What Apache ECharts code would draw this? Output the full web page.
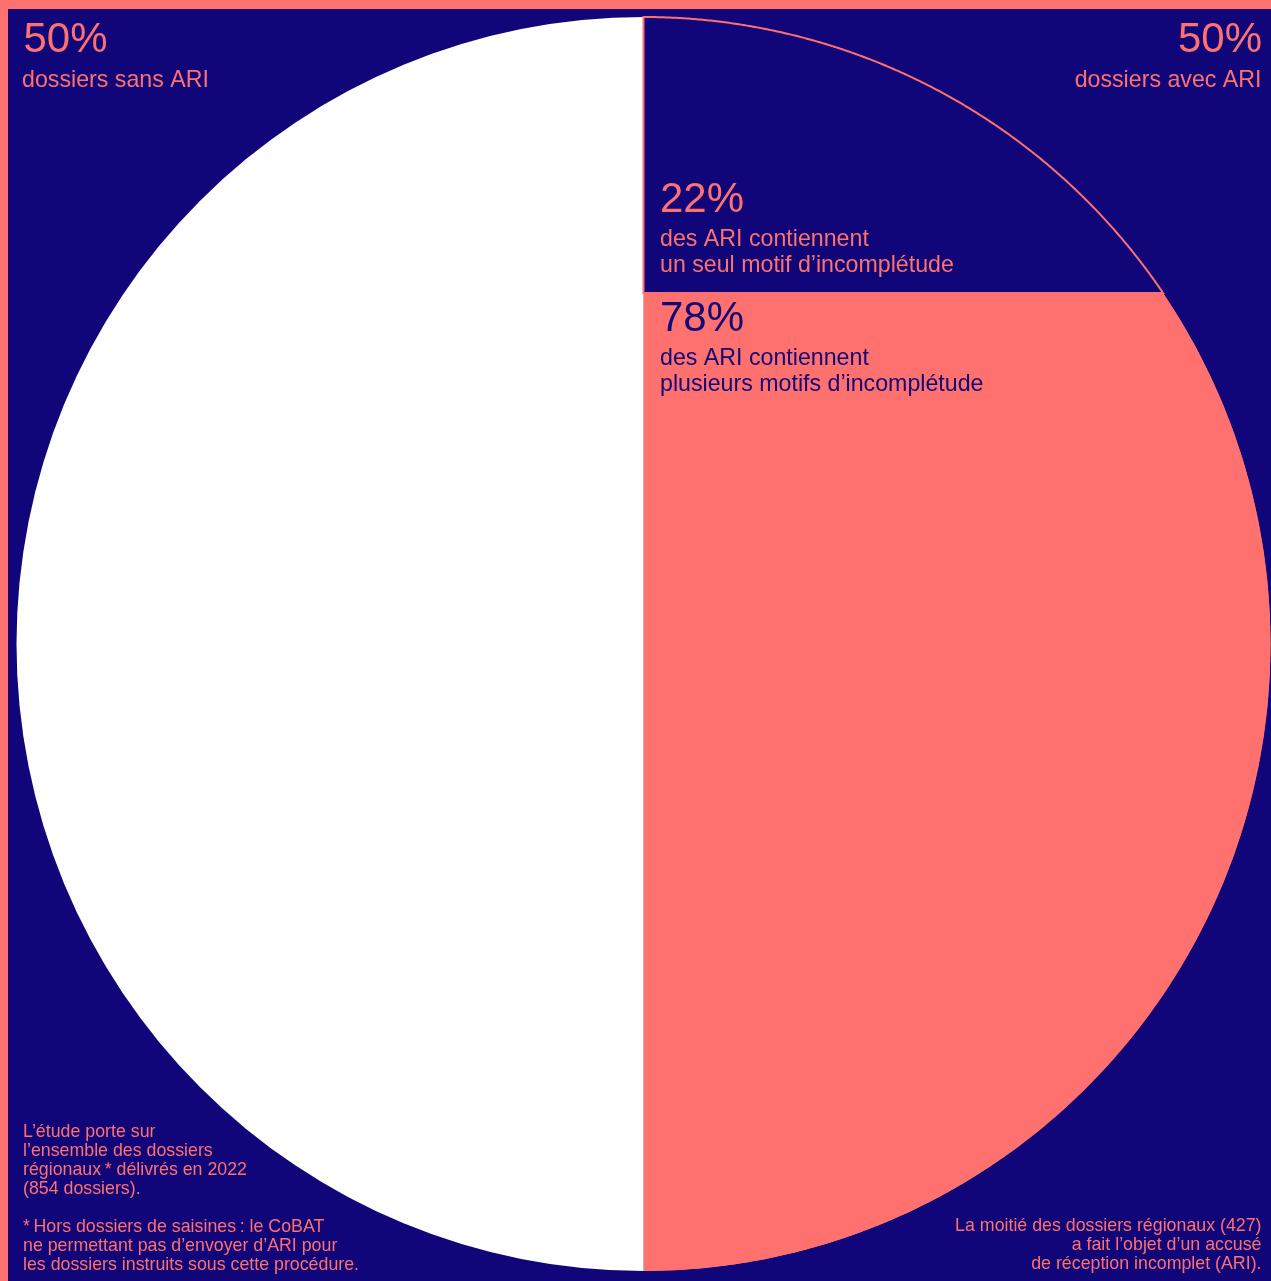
<!DOCTYPE html>
<html>
<head>
<meta charset="utf-8">
<script src="https://cdn.jsdelivr.net/npm/echarts@6/dist/echarts.min.js"></script>
<style>
  html, body { margin: 0; padding: 0; background: #100679; }
  #chart { width: 1271px; height: 1281px; }
</style>
</head>
<body>
<div id="chart"></div>
<script>
// Regional files with / without an incomplete acknowledgement of receipt (ARI)
const ariCategories = ['dossiers avec ARI', 'dossiers sans ARI'];
const ariShares = [50, 50];

// Among the files with an ARI: a single reason vs several reasons
const motifCategories = ['un seul motif d’incomplétude', 'plusieurs motifs d’incomplétude'];
const motifShares = [22, 78];

const NAVY = '#100679';
const CORAL = '#FF716F';
const WHITE = '#FFFFFF';
const FONT = '"Liberation Sans", Arial, sans-serif';

// circle geometry (pixels)
const CX = 643.5, CY = 644, R = 627;

// stacked bands of the right half, as percentages of the diameter from the top
const motifTotal = motifShares.reduce((a, b) => a + b, 0);
let acc = 0;
const motifBands = motifShares.map((v, i) => {
  const start = acc;
  acc += v / motifTotal * 100;
  return { name: motifCategories[i], value: [start, acc] };
});

function renderBand(params, api) {
  const y0 = api.value(0), y1 = api.value(1);
  const c = api.coord([0, 50]);
  const r = api.coord([1, 50])[0] - c[0];
  const p0 = api.coord([0, y0])[1];
  const p1 = api.coord([0, y1])[1];
  const clamp = v => Math.max(-1, Math.min(1, v));
  const t0 = Math.acos(clamp((c[1] - p0) / r));
  const t1 = Math.acos(clamp((c[1] - p1) / r));
  const pts = [];
  const n = 300;
  for (let i = 0; i <= n; i++) {
    const t = t0 + (t1 - t0) * i / n;
    pts.push([c[0] + r * Math.sin(t), c[1] - r * Math.cos(t)]);
  }
  pts.push([c[0], p1]);
  pts.push([c[0], p0]);
  const first = params.dataIndex === 0;
  return {
    type: 'polygon',
    z2: first ? 2 : 1,
    shape: { points: pts },
    style: first
      ? { fill: NAVY, stroke: CORAL, lineWidth: 2 }
      : { fill: CORAL, stroke: null, lineWidth: 0 }
  };
}

function label(x, y, text, size, color, align, vAlign, lineHeight) {
  return {
    type: 'text',
    x: x, y: y,
    z: 100,
    silent: true,
    style: {
      text: text,
      font: size + 'px ' + FONT,
      fill: color,
      align: align || 'left',
      verticalAlign: vAlign || 'middle',
      lineHeight: lineHeight || size
    }
  };
}

const chart = echarts.init(document.getElementById('chart'), null, { renderer: 'canvas' });

chart.setOption({
  backgroundColor: NAVY,
  animation: false,
  grid: { left: CX - R, top: CY - R, width: 2 * R, height: 2 * R, containLabel: false },
  xAxis: { type: 'value', min: -1, max: 1, show: false },
  yAxis: { type: 'value', min: 0, max: 100, inverse: true, show: false },
  series: [
    {
      type: 'pie',
      center: [CX, CY],
      radius: R,
      startAngle: 90,
      clockwise: true,
      silent: true,
      label: { show: false },
      labelLine: { show: false },
      emphasis: { disabled: true },
      itemStyle: { borderWidth: 0 },
      data: ariCategories.map((name, i) => ({
        name: name,
        value: ariShares[i],
        itemStyle: { color: i === 0 ? CORAL : WHITE }
      }))
    },
    {
      type: 'custom',
      coordinateSystem: 'cartesian2d',
      clip: false,
      silent: true,
      renderItem: renderBand,
      data: motifBands
    }
  ],
  graphic: [
    // coral frame on the top and left edges
    { type: 'rect', z: 100, shape: { x: 0, y: 0, width: 1271, height: 9 }, style: { fill: CORAL }, silent: true },
    { type: 'rect', z: 100, shape: { x: 0, y: 0, width: 8, height: 1281 }, style: { fill: CORAL }, silent: true },

    label(23.5, 40.3, ariShares[1] + '%', 42, CORAL, 'left'),
    label(22, 80.8, ariCategories[1], 23.2, CORAL, 'left'),
    label(1262, 40.3, ariShares[0] + '%', 42, CORAL, 'right'),
    label(1261.5, 80.8, ariCategories[0], 23.2, CORAL, 'right'),

    label(660, 200, motifShares[0] + '%', 42, CORAL, 'left'),
    label(660, 226.8, 'des ARI contiennent\n' + motifCategories[0], 23.2, CORAL, 'left', 'top', 26),
    label(660, 319.5, motifShares[1] + '%', 42, NAVY, 'left'),
    label(660, 345.6, 'des ARI contiennent\n' + motifCategories[1], 23.2, NAVY, 'left', 'top', 26),

    label(23, 1122.2,
      'L’étude porte sur\nl’ensemble des dossiers\nrégionaux\u2009* délivrés en 2022\n(854 dossiers).\n\n' +
      '*\u2009Hors dossiers de saisines\u2009: le CoBAT\nne permettant pas d’envoyer d’ARI pour\nles dossiers instruits sous cette procédure.',
      17.8, CORAL, 'left', 'top', 19),
    label(1261.5, 1216.1,
      'La moitié des dossiers régionaux (427)\na fait l’objet d’un accusé\nde réception incomplet (ARI).',
      17.8, CORAL, 'right', 'top', 19.2)
  ]
});
</script>
</body>
</html>
